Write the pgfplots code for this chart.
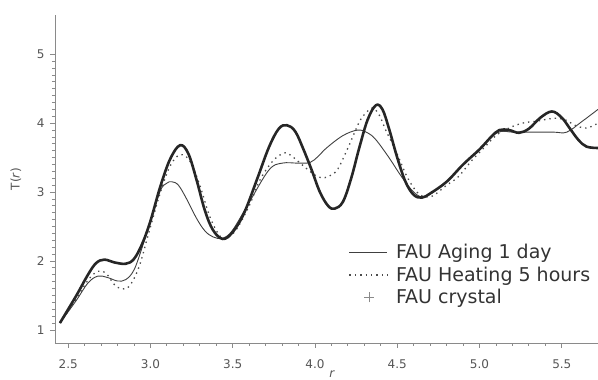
\documentclass[border=0pt]{standalone}
\usepackage{fontspec}
\setmainfont{DejaVu Sans}
\usepackage{pgfplots}
\pgfplotsset{compat=1.18}
\definecolor{axgray}{HTML}{8A8A8A}
\definecolor{txtgray}{HTML}{555555}
\begin{document}
\begin{tikzpicture}
\useasboundingbox (0,0) rectangle (598pt,380pt);
\begin{axis}[
  at={(55pt,37pt)}, anchor=south west,
  scale only axis, width=543pt, height=328pt,
  xmin=2.42, xmax=5.72, ymin=0.81, ymax=5.57,
  axis x line=bottom, axis y line=left,
  axis line style={-, axgray, line width=0.9pt},
  every tick/.style={axgray, line width=0.8pt},
  tick align=outside,
  major tick length=5pt, minor tick length=3pt,
  xtick={2.5,3.0,3.5,4.0,4.5,5.0,5.5},
  xticklabels={2.5,3.0,3.5,4.0,4.5,5.0,5.5},
  minor x tick num=4,
  ytick={1,2,3,4,5}, minor y tick num=9,
  /pgf/number format/assume math mode=true,
  tick label style={font=\fontsize{12}{14}\selectfont, text=txtgray},
  xticklabel style={yshift=-8pt},
  yticklabel style={xshift=-2pt},
  xlabel={\itshape r},
  ylabel={T(\textit{r})},
  label style={font=\fontsize{12}{14}\selectfont, text=txtgray},
  xlabel style={at={(axis description cs:0.51,-0.106)}, anchor=base},
  ylabel style={at={(axis description cs:-0.072,0.5)}, anchor=center},
  legend style={draw=none, fill=none, at={(axis description cs:0.535,0.313)}, anchor=north west,
    font=\fontsize{19}{22}\selectfont, text=black!80, row sep=2.5pt, legend cell align=left,
    /tikz/every odd column/.append style={column sep=6pt}},
  legend image code/.code={\draw[#1] (0pt,0pt) -- (38pt,0pt);},
]
\addplot[black!75, line width=0.9pt, smooth, tension=0.6] coordinates {
(2.45,1.10) (2.55,1.43) (2.62,1.68) (2.68,1.78) (2.74,1.76) (2.80,1.71) (2.85,1.73)
(2.90,1.87) (2.95,2.20) (3.00,2.58) (3.06,3.02) (3.10,3.13) (3.13,3.15) (3.17,3.10)
(3.22,2.90) (3.28,2.62) (3.33,2.44) (3.38,2.35) (3.44,2.33) (3.50,2.45) (3.60,2.85)
(3.72,3.32) (3.80,3.42) (3.90,3.42) (3.97,3.43) (4.02,3.52) (4.07,3.64) (4.17,3.82)
(4.26,3.90) (4.32,3.86) (4.37,3.76) (4.45,3.50) (4.51,3.28) (4.57,3.08) (4.62,2.96)
(4.66,2.93) (4.72,3.00) (4.80,3.15) (4.90,3.40) (5.00,3.62) (5.07,3.80) (5.13,3.88)
(5.20,3.87) (5.30,3.87) (5.45,3.87) (5.53,3.87) (5.62,4.02) (5.72,4.20)
};
\addlegendentry{FAU Aging 1 day}
\addplot[black!70, line width=1.3pt, dash pattern=on 1.4pt off 4pt, smooth, tension=0.6] coordinates {
(2.45,1.10) (2.55,1.45) (2.62,1.72) (2.68,1.85) (2.73,1.82) (2.78,1.66) (2.82,1.60)
(2.87,1.63) (2.93,1.91) (2.99,2.41) (3.06,2.99) (3.12,3.38) (3.18,3.54) (3.24,3.45)
(3.30,3.10) (3.36,2.65) (3.42,2.37) (3.46,2.33) (3.52,2.45) (3.60,2.80) (3.66,3.15)
(3.72,3.38) (3.77,3.51) (3.82,3.57) (3.86,3.52) (3.92,3.40) (3.97,3.30) (4.02,3.22)
(4.06,3.21) (4.10,3.25) (4.14,3.34) (4.20,3.64) (4.27,4.02) (4.31,4.15) (4.35,4.22)
(4.39,4.12) (4.43,3.90) (4.50,3.55) (4.56,3.22) (4.62,3.00) (4.67,2.93) (4.72,2.95)
(4.80,3.10) (4.87,3.22) (4.95,3.45) (5.03,3.65) (5.10,3.82) (5.17,3.92) (5.26,4.00)
(5.35,4.03) (5.45,4.07) (5.52,4.05) (5.58,3.97) (5.65,3.93) (5.72,4.00)
};
\addlegendentry{FAU Heating 5 hours}
\addplot[black!85, line width=2.6pt, smooth, tension=0.6,
  legend image code/.code={\draw[axgray, line width=0.7pt] (20pt,-5pt) -- (20pt,5pt) (15pt,0pt) -- (25pt,0pt); \path[draw=none] (0pt,0pt) (38pt,0pt);}] coordinates {
(2.45,1.10) (2.55,1.50) (2.62,1.80) (2.67,1.97) (2.72,2.02) (2.78,1.98) (2.85,1.96)
(2.90,2.03) (2.95,2.25) (3.00,2.58) (3.06,3.08) (3.12,3.48) (3.18,3.68) (3.23,3.56)
(3.28,3.18) (3.33,2.74) (3.38,2.45) (3.44,2.32) (3.50,2.42) (3.57,2.70) (3.65,3.20)
(3.72,3.65) (3.78,3.92) (3.83,3.97) (3.88,3.88) (3.93,3.62) (3.98,3.32) (4.03,3.00)
(4.08,2.80) (4.12,2.76) (4.17,2.86) (4.22,3.20) (4.27,3.65) (4.32,4.05) (4.37,4.26)
(4.41,4.20) (4.45,3.92) (4.50,3.50) (4.55,3.15) (4.60,2.96) (4.65,2.92) (4.70,2.98)
(4.80,3.15) (4.90,3.40) (5.00,3.62) (5.07,3.80) (5.12,3.90) (5.18,3.90) (5.24,3.86)
(5.30,3.92) (5.37,4.08) (5.44,4.17) (5.50,4.08) (5.55,3.92) (5.60,3.76) (5.65,3.66)
(5.72,3.64)
};
\addlegendentry{FAU crystal}
\end{axis}
\end{tikzpicture}
\end{document}
